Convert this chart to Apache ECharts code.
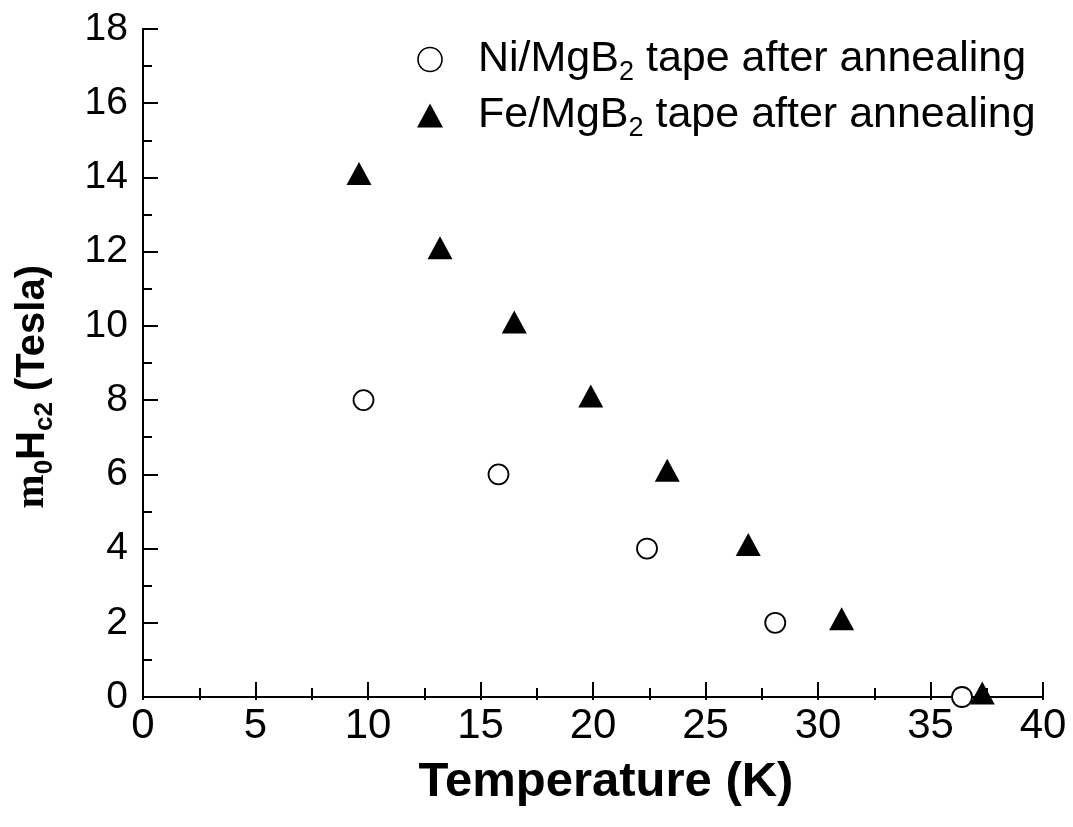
<!DOCTYPE html>
<html>
<head>
<meta charset="utf-8">
<script src="https://cdn.jsdelivr.net/npm/echarts@6/dist/echarts.min.js"></script>
<style>
html,body{margin:0;padding:0;background:#fff;}
#c{width:1073px;height:827px;}
</style>
</head>
<body>
<div id="c"></div>
<script>
// Data
var niTemp = [9.8, 15.8, 22.4, 28.1, 36.4];
var niHc2  = [8, 6, 4, 2, 0];
var feTemp = [9.6, 13.2, 16.5, 19.9, 23.3, 26.9, 31.05, 37.3];
var feHc2  = [14, 12, 10, 8, 6, 4, 2, 0];
var xTicks = [0, 5, 10, 15, 20, 25, 30, 35, 40];
var yTicks = [0, 2, 4, 6, 8, 10, 12, 14, 16, 18];
var seriesNames = ['Ni/MgB2 tape after annealing', 'Fe/MgB2 tape after annealing'];

function pairs(xs, ys) { return xs.map(function (x, i) { return [x, ys[i]]; }); }

var FONT = '"Liberation Sans", Arial, sans-serif';
var chart = echarts.init(document.getElementById('c'), null, {renderer: 'canvas'});
var axisLine = {show: true, lineStyle: {color: '#000', width: 2}};

var option = {
  backgroundColor: '#fff',
  animation: false,
  grid: {left: 143, right: 30, top: 29, bottom: 130, containLabel: false},
  legend: {
    orient: 'vertical',
    left: 412, top: 33,
    itemWidth: 26, itemHeight: 24,
    itemGap: 8,
    data: [
      {name: seriesNames[0], icon: 'circle', itemStyle: {color: '#fff', borderColor: '#000', borderWidth: 1.6}},
      {name: seriesNames[1], icon: 'triangle', itemStyle: {color: '#000'}}
    ],
    formatter: function (name) {
      var p = name.split('MgB2');
      return '{g|}{n|' + p[0] + 'MgB}{s|2}{n|' + p[1] + '}';
    },
    textStyle: {
      fontFamily: FONT, color: '#000',
      rich: {
        g: {width: 30, fontSize: 43},
        n: {fontSize: 43, fontFamily: FONT, color: '#000'},
        s: {fontSize: 27, fontFamily: FONT, color: '#000', padding: [26, 0, 0, 0]}
      }
    }
  },
  xAxis: [{
    type: 'value', min: 0, max: 40, interval: 5, position: 'bottom',
    axisLine: axisLine,
    axisTick: {show: true, inside: true, length: 15, lineStyle: {color: '#000', width: 2}},
    minorTick: {show: true, splitNumber: 2, length: 9, lineStyle: {color: '#000', width: 2}},
    splitLine: {show: false},
    axisLabel: {fontSize: 42, fontFamily: FONT, color: '#000', margin: 8,
      formatter: function (v) { return xTicks.indexOf(v) >= 0 ? String(v) : ''; }},
    name: 'Temperature (K)', nameLocation: 'middle', nameGap: 61,
    nameTextStyle: {fontSize: 49, fontWeight: 'bold', fontFamily: FONT, color: '#000', padding: [0, 0, 0, 26]}
  }, {
    type: 'value', min: 0, max: 40, interval: 2.5, position: 'top',
    axisLine: axisLine,
    axisTick: {show: true, inside: true, length: 3, lineStyle: {color: '#000', width: 2}},
    axisLabel: {show: false}, splitLine: {show: false}
  }],
  yAxis: [{
    type: 'value', min: 0, max: 18, interval: 2, position: 'left',
    axisLine: axisLine,
    axisTick: {show: true, inside: true, length: 15, lineStyle: {color: '#000', width: 2}},
    minorTick: {show: true, splitNumber: 2, length: 9, lineStyle: {color: '#000', width: 2}},
    splitLine: {show: false},
    axisLabel: {fontSize: 39, fontFamily: FONT, color: '#000', margin: 15,
      formatter: function (v) { return yTicks.indexOf(v) >= 0 ? String(v) : ''; }}
  }, {
    type: 'value', min: 0, max: 18, interval: 1, position: 'right',
    axisLine: axisLine,
    axisTick: {show: true, inside: false, length: 3, lineStyle: {color: '#000', width: 2}},
    axisLabel: {show: false}, splitLine: {show: false}
  }],
  graphic: [{
    type: 'text', left: 12, top: 265,
    rotation: Math.PI / 2,
    style: {
      text: '{m|m}{s|0}{b|H}{s|c2}{b| (Tesla)}',
      rich: {
        m: {fontSize: 41, fontWeight: 'bold', fontFamily: '"Liberation Serif", "Times New Roman", serif', fill: '#000'},
        b: {fontSize: 40, fontWeight: 'bold', fontFamily: FONT, fill: '#000'},
        s: {fontSize: 26, fontWeight: 'bold', fontFamily: FONT, fill: '#000', padding: [24, 0, 0, 0]}
      }
    }
  }],
  series: [{
    name: seriesNames[0], type: 'scatter', xAxisIndex: 0, yAxisIndex: 0,
    data: pairs(niTemp, niHc2),
    symbol: 'circle', symbolSize: 20,
    itemStyle: {color: '#fff', borderColor: '#000', borderWidth: 1.8, opacity: 1},
    z: 3
  }, {
    name: seriesNames[1], type: 'scatter', xAxisIndex: 0, yAxisIndex: 0,
    data: pairs(feTemp, feHc2),
    symbol: 'triangle', symbolSize: [25, 23], symbolOffset: [0, -4],
    itemStyle: {color: '#000', opacity: 1},
    z: 4
  }]
};
chart.setOption(option);
</script>
</body>
</html>
